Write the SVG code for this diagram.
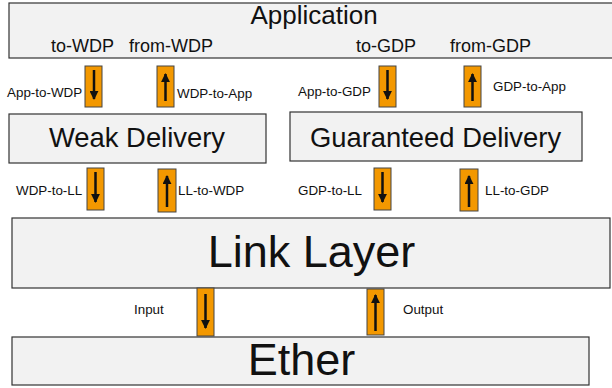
<svg xmlns="http://www.w3.org/2000/svg" width="612" height="388" viewBox="0 0 612 388">
<defs>
<marker id="ah" viewBox="0 0 10 10" refX="9" refY="5" markerWidth="3.6" markerHeight="3.6" orient="auto" markerUnits="strokeWidth">
<path d="M0,0 L10,5 L0,10 Z" fill="#111"/>
</marker>
</defs>
<style>
.box{fill:#f2f2f2;stroke:#333;stroke-width:1.2}
.t{font-family:"Liberation Sans",Arial,sans-serif;fill:#111}
.big{font-size:45px;text-anchor:middle}
.mid{font-size:27.4px;text-anchor:middle}
.sub{font-size:18px}
.lbl{font-size:13.4px}
.pipe{fill:#f39800;stroke:#444;stroke-width:1}
.arr{stroke:#111;stroke-width:2.5;fill:none;marker-end:url(#ah)}
</style>
<rect width="612" height="388" fill="#fff"/>

<g id="application">
<rect class="box" x="9" y="3" width="606" height="55"/>
<text class="t mid" x="314" y="23.5" style="font-size:26px">Application</text>
<text class="t sub" x="51" y="52">to-WDP</text>
<text class="t sub" x="129" y="52">from-WDP</text>
<text class="t sub" x="356" y="52">to-GDP</text>
<text class="t sub" x="450" y="52">from-GDP</text>
</g>

<g id="weak-delivery">
<rect class="box" x="9" y="114" width="257" height="49"/>
<text class="t mid" x="137" y="147">Weak Delivery</text>
</g>

<g id="guaranteed-delivery">
<rect class="box" x="290" y="112" width="292" height="49"/>
<text class="t mid" x="435.5" y="147">Guaranteed Delivery</text>
</g>

<g id="link-layer">
<rect class="box" x="12" y="218" width="598" height="70"/>
<text class="t big" x="311.5" y="267">Link Layer</text>
</g>

<g id="ether">
<rect class="box" x="12" y="337" width="577" height="48"/>
<text class="t big" x="301.5" y="375">Ether</text>
</g>

<g id="connectors">
<g id="app-to-wdp">
<rect class="pipe" x="85" y="66" width="17" height="41"/>
<path class="arr" d="M94,70 V99"/>
<text class="t lbl" x="7" y="97">App-to-WDP</text>
</g>
<g id="wdp-to-app">
<rect class="pipe" x="157" y="66" width="17" height="41"/>
<path class="arr" d="M165.5,101 V74"/>
<text class="t lbl" x="177" y="98">WDP-to-App</text>
</g>
<g id="app-to-gdp">
<rect class="pipe" x="379" y="66" width="17" height="41"/>
<path class="arr" d="M387.5,70 V99"/>
<text class="t lbl" x="298" y="96">App-to-GDP</text>
</g>
<g id="gdp-to-app">
<rect class="pipe" x="464" y="66" width="17" height="41"/>
<path class="arr" d="M472.5,101 V74"/>
<text class="t lbl" x="493" y="91">GDP-to-App</text>
</g>

<g id="wdp-to-ll">
<rect class="pipe" x="87" y="168" width="17" height="42"/>
<path class="arr" d="M95.5,172 V202"/>
<text class="t lbl" x="16" y="195">WDP-to-LL</text>
</g>
<g id="ll-to-wdp">
<rect class="pipe" x="158" y="169" width="18" height="43"/>
<path class="arr" d="M167,207 V176"/>
<text class="t lbl" x="178" y="195">LL-to-WDP</text>
</g>
<g id="gdp-to-ll">
<rect class="pipe" x="374" y="168" width="17" height="42"/>
<path class="arr" d="M382.5,172 V202"/>
<text class="t lbl" x="298" y="195">GDP-to-LL</text>
</g>
<g id="ll-to-gdp">
<rect class="pipe" x="460" y="169" width="18" height="42"/>
<path class="arr" d="M469,207 V176"/>
<text class="t lbl" x="485" y="195">LL-to-GDP</text>
</g>

<g id="input">
<rect class="pipe" x="197" y="288" width="17" height="48"/>
<path class="arr" d="M205.5,294 V328"/>
<text class="t lbl" x="134" y="314">Input</text>
</g>
<g id="output">
<rect class="pipe" x="367" y="289" width="17" height="46"/>
<path class="arr" d="M375.5,331 V295"/>
<text class="t lbl" x="403" y="314">Output</text>
</g>
</g>
</svg>
